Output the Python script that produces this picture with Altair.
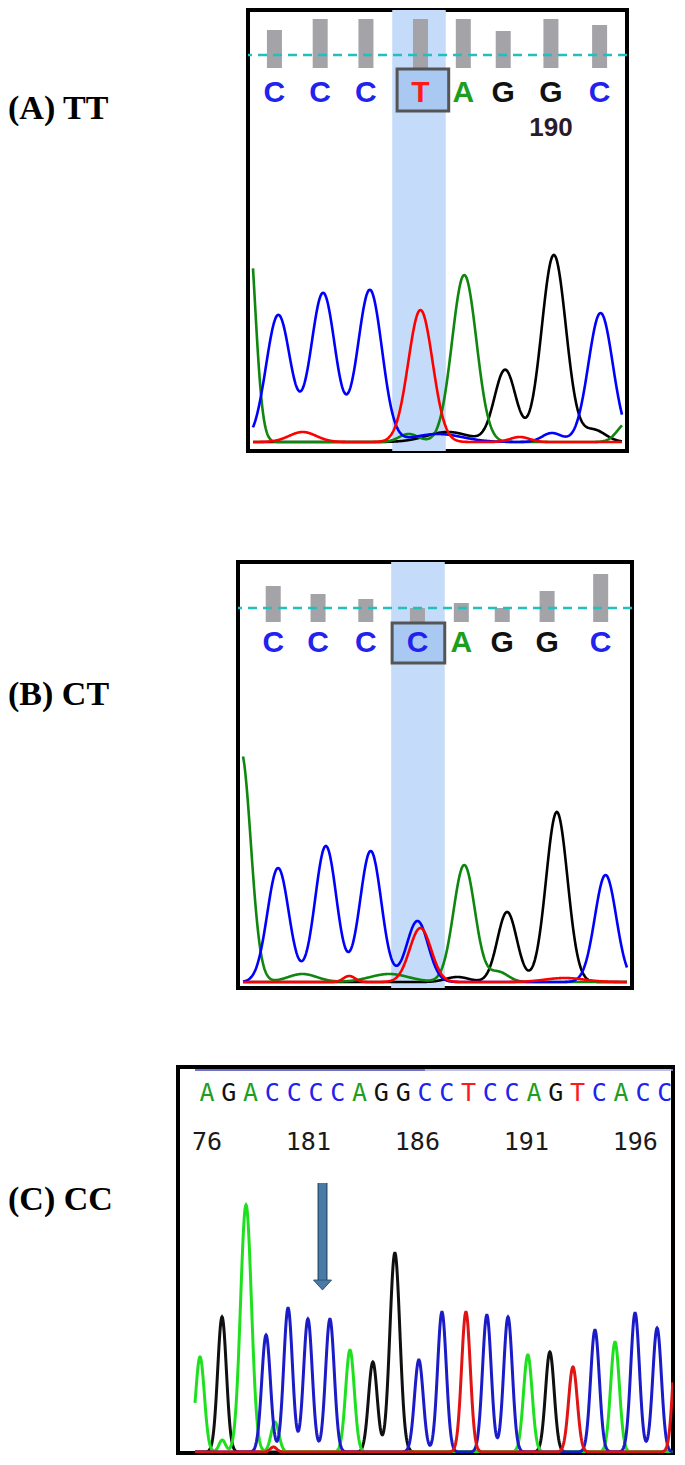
import altair as alt
import numpy as np
import pandas as pd

# ---------------- data ----------------
LABELS = ["(A) TT", "(B) CT", "(C) CC"]

# Panel A (TT) - positions in scan units, signal in trace units
A_CALLS = ["C", "C", "C", "T", "A", "G", "G", "C"]
A_CALL_POS = [22, 69, 116, 172, 216, 257, 306, 356]
A_QUALITY = [38, 49, 49, 49, 49, 37, 49, 43]
A_SNP = 3
A_NUMBER_TEXT = ["190"]
A_NUMBER_CALL = [6]
A_PEAK_POS = [-6, 26, 72, 120, 172, 217, 259, 309, 357, 385, 51, 200, 307, 190, 274, 160, 350]
A_PEAK_HEIGHT = [230, 127, 149, 152, 132, 167, 72, 187, 129, 20, 10, 10, 9, 8, 5, 8, 12]
A_PEAK_BASE = ["A", "C", "C", "C", "T", "A", "G", "G", "C", "A", "T", "G", "C", "C", "T", "A", "G"]
A_PEAK_WIDTH = [8, 12.5, 12.5, 12.5, 12.5, 12.5, 11, 12.5, 12.5, 10, 14, 22, 10, 25, 10, 10, 12]

# Panel B (CT)
B_CALLS = ["C", "C", "C", "C", "A", "G", "G", "C"]
B_CALL_POS = [31, 77, 126, 179, 224, 266, 312, 367]
B_QUALITY = [36, 28, 23, 14, 19, 14, 31, 48]
B_SNP = 3
B_PEAK_POS = [-2, 36, 85, 131, 179, 182, 227, 271, 322, 372, 61, 109, 150, 262, 220, 330]
B_PEAK_HEIGHT = [230, 114, 136, 131, 61, 54, 117, 70, 170, 107, 8, 6, 8, 10, 5, 4]
B_PEAK_BASE = ["A", "C", "C", "C", "C", "T", "A", "G", "G", "C", "A", "T", "A", "A", "G", "T"]
B_PEAK_WIDTH = [10, 11, 11, 11, 11, 11, 11, 10, 11, 11, 15, 6, 20, 10, 12, 20]

# Panel C (CC) - positions in base numbers
C_SEQ = list("AGACCCCAGGCCTCCAGTCACC")
C_FIRST_BASE = 176
C_TICKS = [176, 181, 186, 191, 196]
C_TICK_TEXT = ["76", "181", "186", "191", "196"]
C_PEAK_POS = [175.68, 176.69, 177.79, 178.71, 179.72, 180.63, 181.64, 182.56, 183.61, 184.62,
              185.72, 186.78, 187.88, 188.84, 189.81, 190.72, 191.73, 192.79, 193.80, 194.72,
              195.64, 196.65, 197.60, 176.70, 179.12, 179.05]
C_PEAK_HEIGHT = [95, 135, 247, 117, 144, 133, 133, 102, 90, 199,
                 92, 140, 140, 137, 135, 97, 100, 85, 122, 110,
                 139, 124, 135, 12, 30, 5]
C_PEAK_BASE = list("AGACCCCAGGCCTCCAGTCACCT") + ["A", "A", "T"]
C_PEAK_WIDTH = [0.2, 0.2, 0.25, 0.2, 0.2, 0.2, 0.2, 0.2, 0.2, 0.23,
                0.2, 0.2, 0.2, 0.2, 0.2, 0.2, 0.2, 0.2, 0.2, 0.2,
                0.2, 0.2, 0.2, 0.15, 0.18, 0.15]
C_ARROW_AT = [181.3]

# ---------------- styling ----------------
AB_TRACE = {"A": "#0F870F", "C": "#0000FF", "G": "#000000", "T": "#FF0000"}
AB_LETTER = {"A": "#1E9E1E", "C": "#2222EE", "G": "#111111", "T": "#FF1A1A"}
C_TRACE = {"A": "#1FE01F", "C": "#1B1BC8", "G": "#101010", "T": "#E01414"}
C_LETTER = {"A": "#3ACB3A", "C": "#4646C8", "G": "#333333", "T": "#C81E1E"}
DRAW_ORDER = ["G", "A", "C", "T"]
FRAME = alt.ViewBackground(stroke="black", strokeWidth=4)
NOFRAME = alt.ViewBackground(stroke="transparent", strokeWidth=0)


def traces(xs, pos, height, base, width):
    rows = []
    for ch in DRAW_ORDER:
        y = np.zeros_like(xs)
        for p, h, b, w in zip(pos, height, base, width):
            if b == ch:
                y = y + h * np.exp(-((xs - p) ** 2) / (2.0 * w * w))
        rows.append(pd.DataFrame({"x": xs, "s": y, "ch": ch}))
    return rows


def abi_panel(calls, call_pos, quality, snp, peak_pos, peak_h, peak_b, peak_w,
              xdom, ydom, width, height, letter_y, bar_base, dash_y,
              hl_left, hl_right, box_left, box_right, box_y0, box_y1,
              number=None):
    xs = alt.Scale(domain=xdom, nice=False, zero=False)
    ys = alt.Scale(domain=ydom, nice=False, zero=False)
    X = lambda f: alt.X(f, type="quantitative", scale=xs, axis=None)
    Y = lambda f: alt.Y(f, type="quantitative", scale=ys, axis=None)
    c = call_pos[snp]
    hl = alt.Chart(pd.DataFrame({"x0": [c - hl_left], "x1": [c + hl_right],
                                 "y0": [ydom[0]], "y1": [ydom[1]]})).mark_rect(
        color="#C4DCFA").encode(x=X("x0"), x2="x1", y=Y("y0"), y2="y1")
    qdf = pd.DataFrame({"x": call_pos, "b": bar_base,
                        "t": [bar_base + q for q in quality]})
    bars = alt.Chart(qdf).mark_bar(width=15, color="#A3A3A8").encode(
        x=X("x"), y=Y("b"), y2="t")
    dash = alt.Chart(pd.DataFrame({"y": [dash_y]})).mark_rule(
        color="#22BFBF", strokeWidth=2.5, strokeDash=[9, 6]).encode(y=Y("y"))
    box = alt.Chart(pd.DataFrame({"x0": [c - box_left], "x1": [c + box_right],
                                  "y0": [box_y0], "y1": [box_y1]})).mark_rect(
        fill="#A9C9F3", stroke="#555555", strokeWidth=3).encode(
        x=X("x0"), x2="x1", y=Y("y0"), y2="y1")
    ldf = pd.DataFrame({"x": call_pos, "y": letter_y, "b": calls})
    letters = alt.Chart(ldf).mark_text(
        font="Liberation Sans", fontWeight="bold", fontSize=30,
        baseline="middle", align="center").encode(
        x=X("x"), y=Y("y"), text="b:N",
        color=alt.Color("b:N", scale=alt.Scale(domain=list(AB_LETTER.keys()),
                                               range=list(AB_LETTER.values())),
                        legend=None))
    layers = [hl, bars, dash, box, letters]
    if number is not None:
        ntext, ncall, ny = number
        ndf = pd.DataFrame({"x": [call_pos[i] for i in ncall], "y": ny, "t": ntext})
        layers.append(alt.Chart(ndf).mark_text(
            font="Liberation Sans", fontWeight="bold", fontSize=26,
            color="#2A1A2A", baseline="middle").encode(x=X("x"), y=Y("y"), text="t:N"))
    xs_grid = np.arange(xdom[0], xdom[1] + 0.01, 0.5)
    for df in traces(xs_grid, peak_pos, peak_h, peak_b, peak_w):
        ch = df["ch"].iloc[0]
        layers.append(alt.Chart(df).mark_line(
            color=AB_TRACE[ch], strokeWidth=2.6, clip=True).encode(
            x=X("x"), y=Y("s")))
    return alt.layer(*layers).properties(width=width, height=height, view=FRAME)


def label_chart(text, width, height, y):
    return alt.Chart(pd.DataFrame({"t": [text]})).mark_text(
        align="left", baseline="alphabetic", font="Liberation Serif",
        fontWeight="bold", fontSize=34, color="black").encode(
        text="t:N", x=alt.value(0), y=alt.value(y)).properties(
        width=width, height=height, view=NOFRAME)


panel_a = abi_panel(A_CALLS, A_CALL_POS, A_QUALITY, A_SNP,
                    A_PEAK_POS, A_PEAK_HEIGHT, A_PEAK_BASE, A_PEAK_WIDTH,
                    [0, 379], [-9, 432], 379, 441,
                    letter_y=349, bar_base=374, dash_y=387,
                    hl_left=29, hl_right=26, box_left=24, box_right=29,
                    box_y0=331, box_y1=373,
                    number=(A_NUMBER_TEXT, A_NUMBER_CALL, [314]))

panel_b = abi_panel(B_CALLS, B_CALL_POS, B_QUALITY, B_SNP,
                    B_PEAK_POS, B_PEAK_HEIGHT, B_PEAK_BASE, B_PEAK_WIDTH,
                    [0, 394], [-6, 420], 394, 426,
                    letter_y=339, bar_base=360, dash_y=374,
                    hl_left=27, hl_right=28, box_left=26, box_right=28,
                    box_y0=319, box_y1=359)

# ---------------- Panel C ----------------
cxs = alt.Scale(domain=[174.67, 197.38], nice=False, zero=False)
cys = alt.Scale(domain=[-1, 385], nice=False, zero=False)
CX = lambda f: alt.X(f, type="quantitative", scale=cxs, axis=None)
CY = lambda f: alt.Y(f, type="quantitative", scale=cys, axis=None)

c_layers = []
top_dark = pd.DataFrame({"x0": [175.45], "x1": [186.0], "y": [382]})
top_light = pd.DataFrame({"x0": [186.0], "x1": [197.38], "y": [382]})
c_layers.append(alt.Chart(top_dark).mark_rule(strokeWidth=1.5, color="#4040B8").encode(
    x=CX("x0"), x2="x1", y=CY("y")))
c_layers.append(alt.Chart(top_light).mark_rule(strokeWidth=1.5, color="#A8A8E0").encode(
    x=CX("x0"), x2="x1", y=CY("y")))
cl_df = pd.DataFrame({"x": [C_FIRST_BASE + i for i in range(len(C_SEQ))],
                      "y": 359, "b": C_SEQ})
c_layers.append(alt.Chart(cl_df).mark_text(
    font="DejaVu Sans Mono", fontSize=25, baseline="middle", align="center").encode(
    x=CX("x"), y=CY("y"), text="b:N",
    color=alt.Color("b:N", scale=alt.Scale(domain=list(C_LETTER.keys()),
                                           range=list(C_LETTER.values())), legend=None)))
ct_df = pd.DataFrame({"x": C_TICKS, "y": 310, "t": C_TICK_TEXT})
c_layers.append(alt.Chart(ct_df).mark_text(
    font="DejaVu Sans Mono", fontSize=25, baseline="middle", align="right",
    dx=15, color="#1A1A1A").encode(x=CX("x"), y=CY("y"), text="t:N"))
arrow_df = pd.DataFrame({"x": C_ARROW_AT, "top": 269, "end": 172, "head": 167})
c_layers.append(alt.Chart(arrow_df).mark_rule(strokeWidth=10, color="#2F5577").encode(
    x=CX("x"), y=CY("top"), y2="end"))
c_layers.append(alt.Chart(arrow_df).mark_rule(strokeWidth=7, color="#4A7BA6").encode(
    x=CX("x"), y=CY("top"), y2="end"))
c_layers.append(alt.Chart(arrow_df).mark_point(
    shape="M -1 -0.55 L 1 -0.55 L 0 0.55 Z", size=324, filled=True,
    fill="#4A7BA6", stroke="#2F5577", strokeWidth=1, opacity=1).encode(
    x=CX("x"), y=CY("head")))
cgrid = np.arange(175.45, 197.38, 0.02)
for df in traces(cgrid, C_PEAK_POS, C_PEAK_HEIGHT, C_PEAK_BASE, C_PEAK_WIDTH):
    ch = df["ch"].iloc[0]
    c_layers.append(alt.Chart(df).mark_line(
        color=C_TRACE[ch], strokeWidth=3, clip=True).encode(x=CX("x"), y=CY("s")))
panel_c = alt.layer(*c_layers).properties(width=495, height=386, view=FRAME)

row_a = alt.hconcat(label_chart(LABELS[0], 236, 441, 109), panel_a, spacing=0)
row_b = alt.hconcat(label_chart(LABELS[1], 226, 426, 143), panel_b, spacing=0)
row_c = alt.hconcat(label_chart(LABELS[2], 168, 386, 143), panel_c, spacing=0)

chart = alt.vconcat(alt.vconcat(row_a, row_b, spacing=107), row_c, spacing=75).properties(
    padding={"left": 0, "top": 0, "right": 0, "bottom": 0},
    background="white")

chart.save("out.html", embed_options={"renderer": "svg", "actions": False})
